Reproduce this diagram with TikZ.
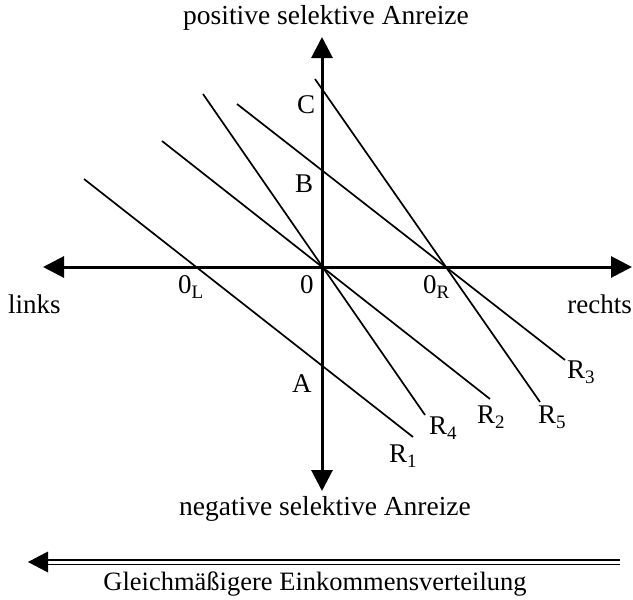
\documentclass[tikz,border=0pt]{standalone}
\usepackage{fontspec}
\setmainfont{Liberation Serif}
\usetikzlibrary{arrows.meta}
\newcommand{\lowsub}[1]{\raisebox{-5pt}{\fontsize{19}{19}\selectfont #1}}
\begin{document}
\begin{tikzpicture}[x=1pt,y=-1pt,
  axis/.style={line width=3pt,-{Triangle[length=21pt,width=21pt]}},
  rline/.style={line width=1.7pt},
  lbl/.style={font=\fontsize{27}{32}\selectfont,inner sep=0pt,anchor=base west},
  title/.style={font=\fontsize{27.5}{32}\selectfont,inner sep=0pt,anchor=base}]
\useasboundingbox (0,0) rectangle (633,600);
% axes
\coordinate (O) at (322,267);
\coordinate (tipL) at (43,267);
\coordinate (tipR) at (632,267);
\coordinate (tipT) at (322,37);
\coordinate (tipB) at (322,491);
\draw[axis] (O) -- (tipL);
\draw[axis] (O) -- (tipR);
\draw[axis] (O) -- (tipT);
\draw[axis] (O) -- (tipB);
% R lines
\coordinate (r1a) at (84,179);  \coordinate (r1b) at (413,437);
\coordinate (r2a) at (162,141); \coordinate (r2b) at (490,399);
\coordinate (r4a) at (203,94);  \coordinate (r4b) at (425,415);
\coordinate (r3a) at (237,104); \coordinate (r3b) at (565,360);
\coordinate (r5a) at (315,79);  \coordinate (r5b) at (540,402);
\draw[rline] (r1a) -- (r1b);
\draw[rline] (r2a) -- (r2b);
\draw[rline] (r4a) -- (r4b);
\draw[rline] (r3a) -- (r3b);
\draw[rline] (r5a) -- (r5b);
% labels
\node[title] (pos) at (326,24) {positive selektive Anreize};
\node[title] (neg) at (325,515) {negative selektive Anreize};
\node[lbl] (links) at (8,313) {links};
\node[lbl,anchor=base east] (rechts) at (632,313) {rechts};
\node[lbl] (zl) at (178,293) {0\lowsub{L}};
\node[lbl] (z) at (300,293) {0};
\node[lbl] (zr) at (423,293) {0\lowsub{R}};
\node[lbl] (C) at (297,113) {C};
\node[lbl] (B) at (295,192) {B};
\node[lbl] (A) at (292,392) {A};
\node[lbl] (R1) at (389,462) {R\lowsub{1}};
\node[lbl] (R4) at (429,434) {R\lowsub{4}};
\node[lbl] (R2) at (477,423) {R\lowsub{2}};
\node[lbl] (R5) at (538,423) {R\lowsub{5}};
\node[lbl] (R3) at (567,378) {R\lowsub{3}};
% bottom double arrow
\coordinate (dtip) at (28,562);
\coordinate (dbase) at (48,562);
\coordinate (dend) at (620,562);
\draw[line width=1.6pt] (48,559.7) -- (620,559.7);
\draw[line width=1.6pt] (48,564.3) -- (620,564.3);
\fill (dtip) -- (48,551.5) -- (48,572.5) -- cycle;
\node[title,font=\fontsize{26.5}{32}\selectfont] (gl) at (315,590) {Gleichmäßigere Einkommensverteilung};
\end{tikzpicture}
\end{document}
